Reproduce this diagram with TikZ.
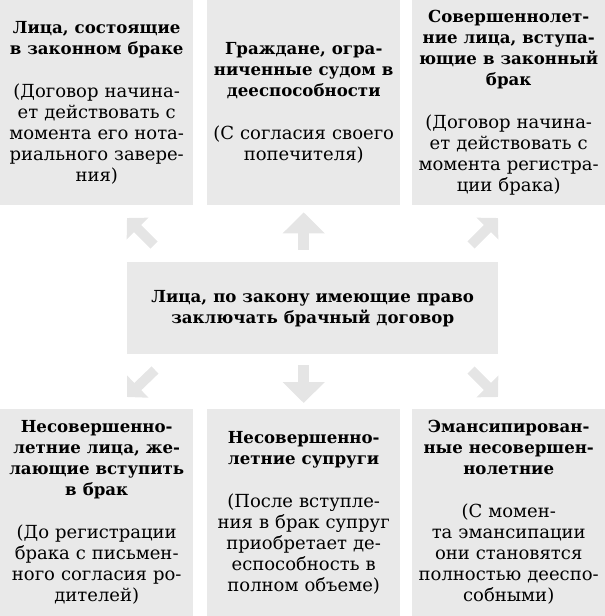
\documentclass[tikz,border=0pt]{standalone}
\usepackage{fontspec}
\setmainfont{DejaVu Serif}
\usetikzlibrary{arrows.meta}
\definecolor{boxgray}{RGB}{233,233,233}
\definecolor{arrgray}{RGB}{229,229,229}
\newcommand\headfont{\fontsize{16.6bp}{21bp}\selectfont\bfseries}
\newcommand\notefont{\fontsize{18bp}{21bp}\selectfont\mdseries}
\tikzset{
  box/.style={fill=boxgray, minimum width=193bp, minimum height=205bp, inner sep=0pt,
    text width=188bp, align=center, font=\notefont},
  fat/.style={draw=arrgray, line width=11bp, -{Triangle[length=21bp,width=41bp]}},
  slant/.style={draw=arrgray, line width=10bp, -{Triangle[length=15bp,width=30bp]}}
}
\begin{document}
\begin{tikzpicture}[x=1bp,y=-1bp]
\useasboundingbox (0,0) rectangle (605,616);
\node[box,anchor=north west] (married) at (0,0) {\headfont Лица, состоящие\\в законном браке\\[22bp]
  \notefont (Договор начина-\\ет действовать с\\момента его нота-\\риального завере-\\ния)};
\node[box,anchor=north west] (limited) at (207,0) {\headfont Граждане, огра-\\ниченные судом в\\дееспособности\\[22bp]
  \notefont (С согласия своего\\попечителя)};
\node[box,anchor=north west] (adult) at (412,0) {\headfont Совершеннолет-\\ние лица, вступа-\\ющие в законный\\брак\\[22bp]
  \notefont (Договор начина-\\ет действовать с\\момента регистра-\\ции брака)};
\node[box,anchor=north west,minimum width=371bp,minimum height=92bp,text width=360bp] (law) at (127,262)
  {\headfont Лица, по закону имеющие право\\заключать брачный договор};
\node[box,anchor=north west,minimum height=207bp] (minor) at (0,409) {\headfont Несовершенно-\\летние лица, же-\\лающие вступить\\в брак\\[22bp]
  \notefont (До регистрации\\брака с письмен-\\ного согласия ро-\\дителей)};
\node[box,anchor=north west,minimum height=207bp] (spouses) at (207,409) {\headfont Несовершенно-\\летние супруги\\[22bp]
  \notefont (После вступле-\\ния в брак супруг\\приобретает де-\\еспособность в\\полном объеме)};
\node[box,anchor=north west,minimum height=207bp] (emancip) at (412,409) {\headfont Эмансипирован-\\ные несовершен-\\нолетние\\[22bp]
  \notefont (С момен-\\та эмансипации\\они становятся\\полностью дееспо-\\собными)};
\draw[fat] ([yshift=12bp]law.north -| limited.south) -- ([yshift=-7bp]limited.south);
\draw[fat] ([yshift=-11bp]law.south -| spouses.north) -- ([yshift=6bp]spouses.north);
\foreach \n/\ax/\ay/\bx/\by in {nw/154/245/127/218, ne/471/245/498/218,
                                sw/155/370/127/397, se/471/370/498/397}{
  \coordinate (\n-tail) at (\ax,\ay);
  \coordinate (\n-tip) at (\bx,\by);
  \draw[slant] (\n-tail) -- (\n-tip);
}
\end{tikzpicture}
\end{document}
